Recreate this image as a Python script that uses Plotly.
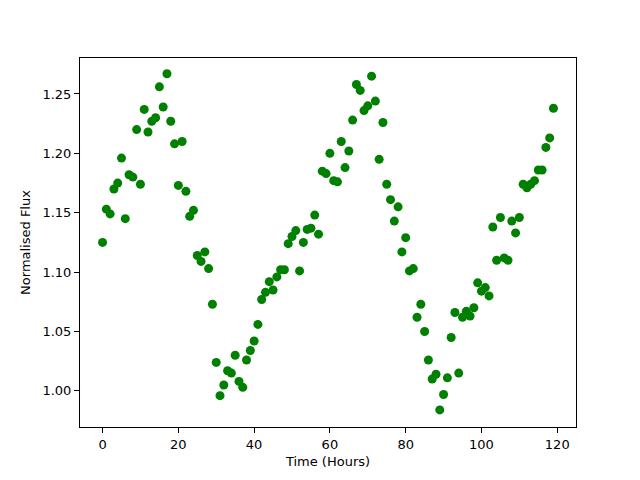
import plotly.graph_objects as go

hours = list(range(120))
flux = [
    1.125, 1.153, 1.149, 1.170, 1.175, 1.196, 1.145, 1.182, 1.180, 1.220,
    1.174, 1.237, 1.218, 1.227, 1.230, 1.256, 1.239, 1.267, 1.227, 1.208,
    1.173, 1.210, 1.168, 1.147, 1.152, 1.114, 1.109, 1.117, 1.103, 1.073,
    1.024, 0.996, 1.005, 1.017, 1.015, 1.030, 1.008, 1.003, 1.026, 1.034,
    1.042, 1.056, 1.077, 1.083, 1.092, 1.085, 1.096, 1.102, 1.102, 1.124,
    1.130, 1.135, 1.101, 1.125, 1.136, 1.137, 1.148, 1.132, 1.185, 1.183,
    1.200, 1.177, 1.176, 1.210, 1.188, 1.202, 1.228, 1.258, 1.253, 1.236,
    1.240, 1.265, 1.244, 1.195, 1.226, 1.174, 1.161, 1.143, 1.155, 1.117,
    1.129, 1.101, 1.103, 1.062, 1.073, 1.050, 1.026, 1.010, 1.014, 0.984,
    0.997, 1.011, 1.045, 1.066, 1.015, 1.062, 1.067, 1.063, 1.070, 1.091,
    1.084, 1.087, 1.080, 1.138, 1.110, 1.146, 1.112, 1.110, 1.143, 1.133,
    1.146, 1.174, 1.171, 1.174, 1.177, 1.186, 1.186, 1.205, 1.213, 1.238,
]

x_ticks = [0, 20, 40, 60, 80, 100, 120]
y_ticks = [1.00, 1.05, 1.10, 1.15, 1.20, 1.25]

fig = go.Figure(go.Scatter(
    x=hours, y=flux, mode="markers",
    marker=dict(color="#008000", size=9, line=dict(width=0)),
))

axis_common = dict(
    showgrid=False, zeroline=False, showline=True, linecolor="black",
    linewidth=1, mirror=True, ticks="outside", ticklen=5, tickwidth=1,
    tickcolor="black", tickfont=dict(size=13, color="black"),
)

fig.update_layout(
    width=640, height=480,
    margin=dict(l=72, r=72, t=50, b=61),
    paper_bgcolor="white", plot_bgcolor="white",
    font=dict(family="DejaVu Sans", size=13, color="black"),
    showlegend=False,
    xaxis=dict(range=[-5.95, 124.95], tickvals=x_ticks,
               title=dict(text="Time (Hours)", standoff=6, font=dict(size=13)),
               **axis_common),
    yaxis=dict(range=[0.9696, 1.2803], tickvals=y_ticks, tickformat=".2f",
               title=dict(text="Normalised Flux", standoff=8, font=dict(size=13)),
               **axis_common),
)

fig.write_html("out.html")
